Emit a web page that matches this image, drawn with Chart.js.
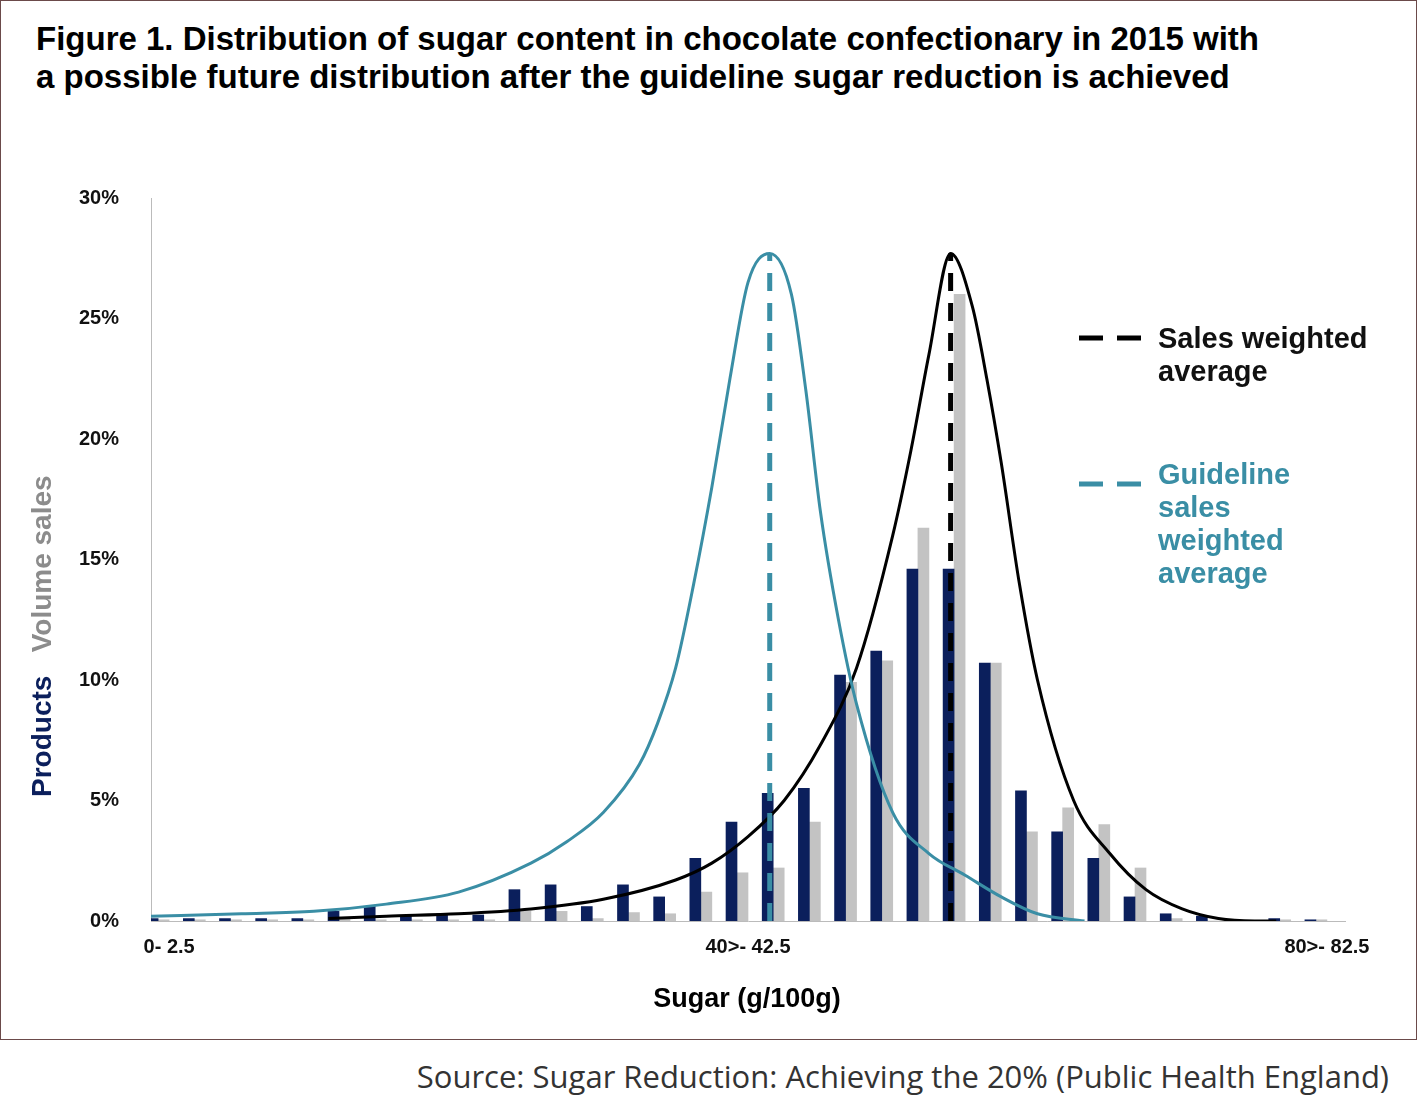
<!DOCTYPE html>
<html><head><meta charset="utf-8">
<script src="https://cdn.jsdelivr.net/npm/chart.js@4"></script>
<style>
body{margin:0;background:#fff;font-family:"Liberation Sans",Arial,sans-serif;}
#frame{position:absolute;left:0;top:0;width:1415px;height:1038px;border:1px solid #6b4a4a;}
#title{position:absolute;left:36px;top:20px;font-weight:bold;font-size:33px;line-height:38px;color:#000;}
#wrap{position:absolute;left:0;top:150px;width:1417px;height:880px;}
#ytitle{position:absolute;left:26px;top:797px;transform:rotate(-90deg);transform-origin:left top;font-weight:bold;font-size:28px;white-space:nowrap;}
#xtitle{position:absolute;left:0;width:1494px;text-align:center;top:983px;font-weight:bold;font-size:27px;}
.leg{position:absolute;font-weight:bold;font-size:29px;line-height:33px;}
#src{position:absolute;right:28px;top:1055px;font-family:"Open Sans",sans-serif;font-size:31px;color:#333;}
</style></head><body>
<div id="frame"></div>
<div id="title">Figure 1. Distribution of sugar content in chocolate confectionary in 2015 with<br>a possible future distribution after the guideline sugar reduction is achieved</div>
<div id="wrap"><canvas id="c"></canvas></div>
<div id="ytitle"><span style="color:#0b1f5c">Products</span>&nbsp;&nbsp;&nbsp;<span style="color:#8c8c8c">Volume sales</span></div>
<div id="xtitle">Sugar (g/100g)</div>
<div class="leg" style="left:1158px;top:322px;color:#111">Sales weighted<br>average</div>
<div class="leg" style="left:1158px;top:458px;color:#3a8ea5">Guideline<br>sales<br>weighted<br>average</div>
<svg style="position:absolute;left:1075px;top:330px" width="70" height="160">
<line x1="4" y1="8" x2="66" y2="8" stroke="#000" stroke-width="5" stroke-dasharray="24,14"/>
<line x1="4" y1="154" x2="66" y2="154" stroke="#3a8ea5" stroke-width="5" stroke-dasharray="24,14"/>
</svg>
<div id="src">Source: Sugar Reduction: Achieving the 20% (Public Health England)</div>
<script>
const categories=["0- 2.5","2.5>- 5","5>- 7.5","7.5>- 10","10>- 12.5","12.5>- 15","15>- 17.5","17.5>- 20","20>- 22.5","22.5>- 25","25>- 27.5","27.5>- 30","30>- 32.5","32.5>- 35","35>- 37.5","37.5>- 40","40>- 42.5","42.5>- 45","45>- 47.5","47.5>- 50","50>- 52.5","52.5>- 55","55>- 57.5","57.5>- 60","60>- 62.5","62.5>- 65","65>- 67.5","67.5>- 70","70>- 72.5","72.5>- 75","75>- 77.5","77.5>- 80","80>- 82.5"];
const shownTicks=["0- 2.5","40>- 42.5","80>- 82.5"];
const products=[0.1,0.1,0.1,0.1,0.1,0.4,0.6,0.2,0.3,0.25,1.3,1.5,0.6,1.5,1.0,2.6,4.1,5.3,5.5,10.2,11.2,14.6,14.6,10.7,5.4,3.7,2.6,1.0,0.3,0.2,0,0.1,0.05];
const volume=[0.05,0.05,0.05,0.05,0.05,0.1,0.05,0.05,0.05,0.05,0.4,0.4,0.1,0.35,0.3,1.2,2.0,2.2,4.1,9.9,10.8,16.3,26.0,10.7,3.7,4.7,4.0,2.2,0.1,0,0,0.05,0.05];
const currentCurveX=[4.4,6,8,10,12,14,15,16,17,18,19,20,20.5,21,21.6,22.2,22.6,23,23.5,24,25,26,27,28,29,30,30.6];
const currentCurveY=[0.1,0.2,0.3,0.5,0.9,1.7,2.4,3.5,5,7.3,10.5,16,19.5,23.5,27.7,25.5,22.5,19,14,10,5,2.8,1.3,0.5,0.1,0,0];
const guideCurveX=[-0.5,2,4,6,8,10,11,12,13,13.5,14,14.5,15,15.5,16,16.6,17.2,17.6,18,18.5,19,20,21,22,23,24,25.3];
const guideCurveY=[0.2,0.3,0.4,0.7,1.2,2.4,3.3,4.5,6.5,8.2,10.5,14,18,22.5,26.5,27.7,26,22,17,12.5,9,4.5,2.8,1.9,1.0,0.3,0];
const currentAvg=21.6, guideAvg=16.6, avgPeak=27.7;
const pts=(xs,ys)=>xs.map((x,i)=>({x,y:ys[i]}));
new Chart(document.getElementById('c'),{
 data:{labels:categories,datasets:[
  {type:'bar',data:products,backgroundColor:'#0b1f5c',barThickness:11,order:3},
  {type:'bar',data:volume,backgroundColor:'#c3c3c3',barThickness:11,order:3},
  {type:'line',xAxisID:'x2',data:pts(guideCurveX,guideCurveY),borderColor:'#3a8ea5',borderWidth:3,pointRadius:0,cubicInterpolationMode:'monotone',fill:false,order:1},
  {type:'line',xAxisID:'x2',data:pts(currentCurveX,currentCurveY),borderColor:'#000',borderWidth:3,pointRadius:0,cubicInterpolationMode:'monotone',fill:false,order:1},
  {type:'line',xAxisID:'x2',data:[{x:guideAvg,y:0},{x:guideAvg,y:avgPeak}],borderColor:'#3a8ea5',borderWidth:5,borderDash:[18,12],pointRadius:0,order:0},
  {type:'line',xAxisID:'x2',data:[{x:currentAvg,y:0},{x:currentAvg,y:avgPeak}],borderColor:'#000',borderWidth:5,borderDash:[18,12],pointRadius:0,order:0}
 ]},
 options:{responsive:true,maintainAspectRatio:false,animation:false,
  layout:{padding:{left:55,right:72,top:48,bottom:57}},
  plugins:{legend:{display:false},tooltip:{enabled:false}},
  scales:{
   x:{offset:true,grid:{display:false,drawTicks:false},border:{color:'#bbb'},
      ticks:{autoSkip:false,maxRotation:0,padding:14,color:'#111',font:{size:20,weight:'bold',family:'Liberation Sans'},
        callback:function(v){const l=categories[v];return shownTicks.includes(l)?l:'';}}},
   x2:{type:'linear',display:false,min:-0.5,max:32.5},
   y:{min:0,max:30,grid:{display:false},border:{color:'#bbb'},
      ticks:{stepSize:5,padding:24,color:'#111',font:{size:20,weight:'bold',family:'Liberation Sans'},callback:v=>v+'%'}}
  }}
});
</script></body></html>
